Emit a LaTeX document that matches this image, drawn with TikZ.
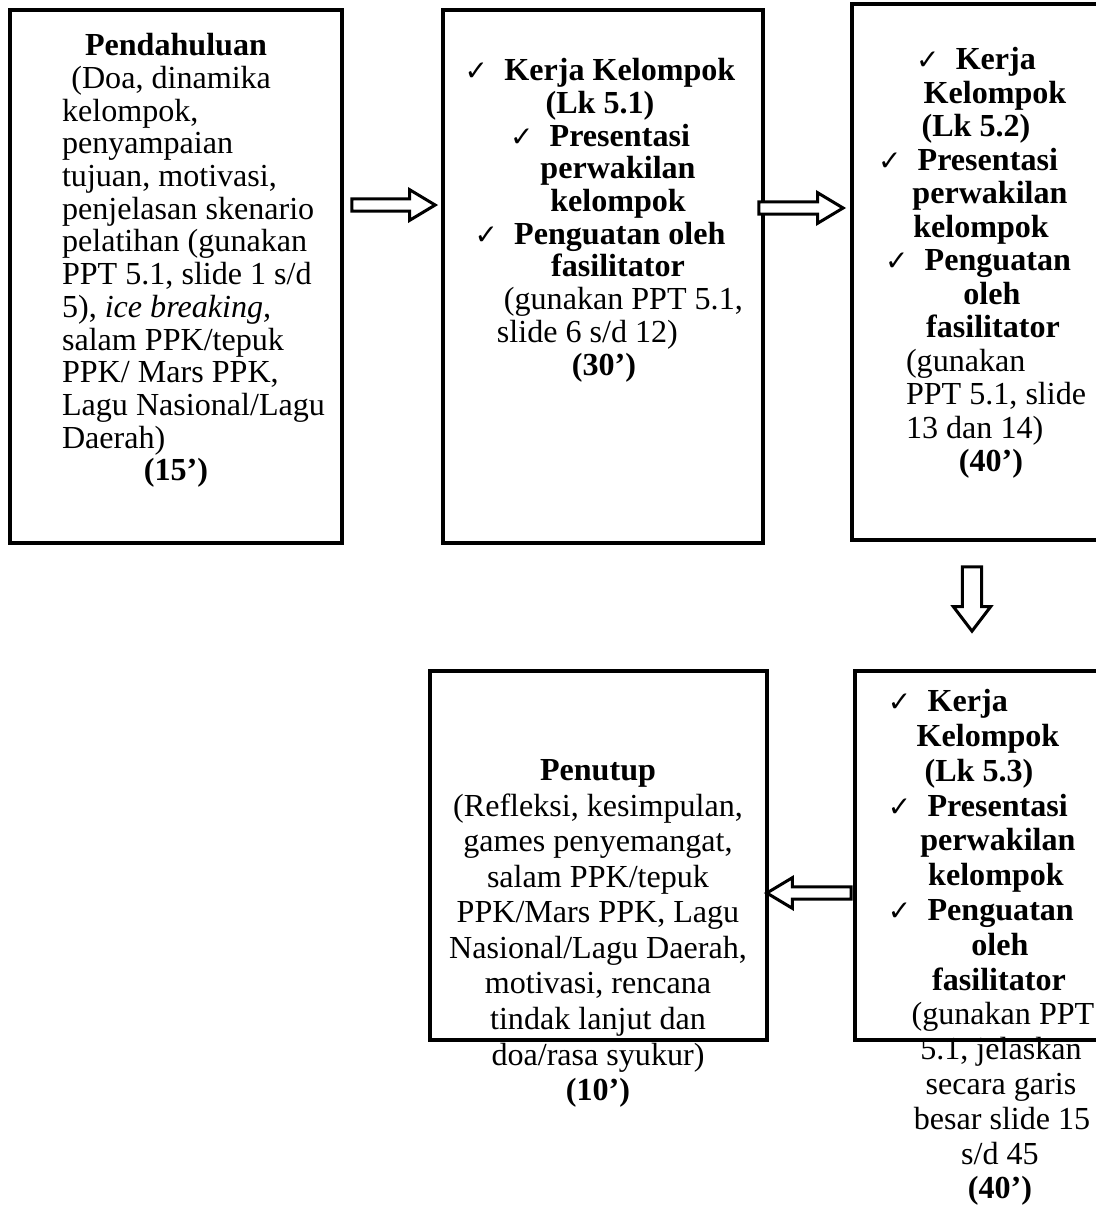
\documentclass[tikz,border=0pt]{standalone}
\usepackage{fontspec}
\setmainfont{Liberation Serif}
\newfontfamily\chkfont{DejaVu Sans}
\usetikzlibrary{calc}
\usetikzlibrary{positioning}

\newcommand{\chk}{{\chkfont\fontsize{12}{12}\selectfont ✓}\hspace{7pt}}
\newcommand{\kiri}[2]{\makebox[#1][l]{#2}}

\tikzset{
	box/.style={draw, line width=1.6pt, rectangle, inner sep=0pt},
	txt/.style={anchor=north, align=center, inner sep=0pt, font=\fontsize{13.8}{#1}\selectfont},
	hollow arrow/.style n args={3}{draw, line width=1.3pt, fill=white, line join=miter,
		to path={
			($(\tikztotarget)!#3!(\tikztostart)$) coordinate (hd)
			($(\tikztostart)!#1!90:(\tikztotarget)$)
			-- ($(hd)!#1!-90:(\tikztostart)$)
			-- ($(hd)!#2!-90:(\tikztostart)$)
			-- (\tikztotarget)
			-- ($(hd)!#2!90:(\tikztostart)$)
			-- ($(hd)!#1!90:(\tikztostart)$)
			-- ($(\tikztostart)!#1!-90:(\tikztotarget)$)
			-- cycle}},
	harrow/.style={hollow arrow={2.6pt}{6.6pt}{11pt}},
	varrow/.style={hollow arrow={4.1pt}{8pt}{10.5pt}}
}

\begin{document}
\begin{tikzpicture}[x=0.43pt, y=-0.43pt]
		\useasboundingbox (0,0) rectangle (1096,1211);
		% kotak kegiatan
		\node[box, minimum width=142.8pt, minimum height=229.2pt] (pend) at (176,276.5) {};
		\node[box, minimum width=137.6pt, minimum height=229.2pt] (kel1) at (603,276.5) {};
		\node[box, minimum width=108.4pt, minimum height=230.5pt] (kel2) at (978,272) {};
		\node[box, minimum width=144.9pt, minimum height=158.7pt] (tutup) at (598.5,855.5) {};
		\node[box, minimum width=107.1pt, minimum height=158.7pt] (kel3) at (979.5,855.5) {};
		
		% teks
		\node[txt=14.06] (pendtxt) at (176,33) {\textbf{Pendahuluan}\\
			\kiri{98pt}{\hspace*{4pt}(Doa, dinamika}\\
			\kiri{98pt}{kelompok,}\\
			\kiri{98pt}{penyampaian}\\
			\kiri{98pt}{tujuan, motivasi,}\\
			\kiri{98pt}{penjelasan skenario}\\
			\kiri{98pt}{pelatihan (gunakan}\\
			\kiri{98pt}{PPT 5.1, slide 1 s/d}\\
			\kiri{98pt}{5), \textit{ice breaking,}}\\
			\kiri{98pt}{salam PPK/tepuk}\\
			\kiri{98pt}{PPK/ Mars PPK,}\\
			\kiri{98pt}{Lagu Nasional/Lagu}\\
			\kiri{98pt}{Daerah)}\\
			\textbf{(15’)}};
		\node[txt=14.06] (kel1txt) at (600,58) {\chk\textbf{Kerja Kelompok}\\
			\textbf{(Lk 5.1)}\\
			\chk\textbf{Presentasi}\\
			\hspace*{15.5pt}\textbf{perwakilan}\\
			\hspace*{15.5pt}\textbf{kelompok}\\
			\chk\textbf{Penguatan oleh}\\
			\hspace*{15.5pt}\textbf{fasilitator}\\
			\kiri{88.6pt}{\hspace*{3pt}(gunakan PPT 5.1,}\\
			\kiri{88.6pt}{slide 6 s/d 12)}\\
			\hspace*{3.4pt}\textbf{(30’)}};
		\node[txt=14.4] (kel2txt) at (968,47) {\hspace*{6.9pt}\chk\textbf{Kerja}\\
			\hspace*{23.2pt}\textbf{Kelompok}\\
			\hspace*{6.9pt}\textbf{(Lk 5.2)}\\
			\chk\textbf{Presentasi}\\
			\hspace*{18.9pt}\textbf{perwakilan}\\
			\hspace*{11.2pt}\textbf{kelompok}\\
			\hspace*{8.6pt}\chk\textbf{Penguatan}\\
			\hspace*{20.6pt}\textbf{oleh}\\
			\hspace*{21.5pt}\textbf{fasilitator}\\
			\kiri{53.3pt}{(gunakan}\\
			\kiri{53.3pt}{PPT 5.1, slide}\\
			\kiri{53.3pt}{13 dan 14)}\\
			\hspace*{19.8pt}\textbf{(40’)}};
		\node[txt=15.3] (tutuptxt) at (598,759) {\textbf{Penutup}\\
			(Refleksi, kesimpulan,\\
			games penyemangat,\\
			salam PPK/tepuk\\
			PPK/Mars PPK, Lagu\\
			Nasional/Lagu Daerah,\\
			motivasi, rencana\\
			tindak lanjut dan\\
			doa/rasa syukur)\\
			\textbf{(10’)}};
		\node[txt=14.96] (kel3txt) at (979,689) {\kiri{78.3pt}{\chk\textbf{Kerja}}\\
			\hspace*{7.7pt}\textbf{Kelompok}\\
			\textbf{(Lk 5.3)}\\
			\kiri{78.3pt}{\chk\textbf{Presentasi}}\\
			\hspace*{16.3pt}\textbf{perwakilan}\\
			\hspace*{14.6pt}\textbf{kelompok}\\
			\kiri{78.3pt}{\chk\textbf{Penguatan}}\\
			\hspace*{18pt}\textbf{oleh}\\
			\hspace*{17.2pt}\textbf{fasilitator}\\
			\hspace*{20.6pt}(gunakan PPT\\
			\hspace*{18.9pt}5.1, jelaskan\\
			\hspace*{18.9pt}secara garis\\
			\hspace*{19.8pt}besar slide 15\\
			\hspace*{18pt}s/d 45\\
			\hspace*{18pt}\textbf{(40’)}};
		
		% panah
		\draw[harrow] ($(pend.east)+(8,-71.5)$) to ($(kel1.west)+(-6,-71.5)$);
		\draw[harrow] ($(kel1.east)+(-6,-68.5)$) to ($(kel2.west)+(-7,-64)$);
		\draw[varrow] ($(kel2.south)+(-6,25)$) to ($(kel3.north)+(-7.5,-38)$);
		\draw[harrow] ($(kel3.west)+(-2,37.5)$) to ($(tutup.east)+(-2,37.5)$);
	\end{tikzpicture}
\end{document}
